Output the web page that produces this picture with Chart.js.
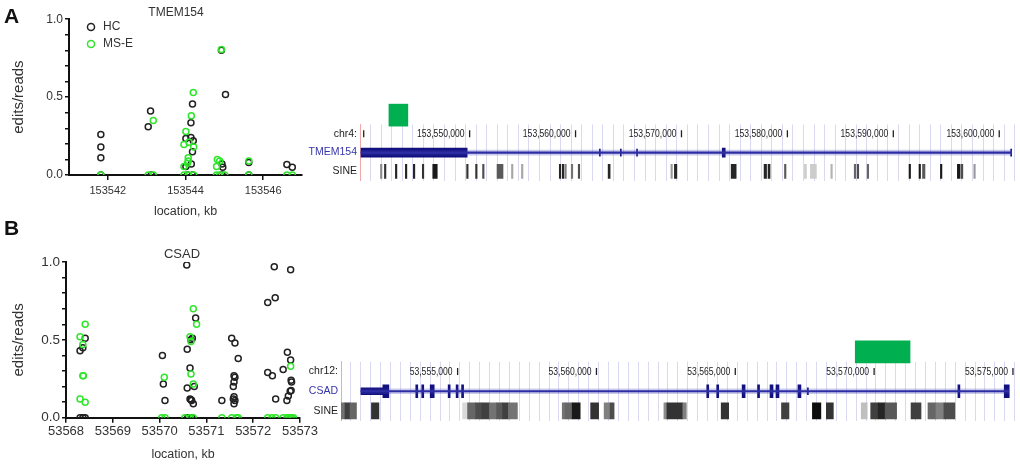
<!DOCTYPE html>
<html><head><meta charset="utf-8">
<script src="https://cdn.jsdelivr.net/npm/chart.js@4.4.1/dist/chart.umd.min.js"></script>
<style>
html,body{margin:0;padding:0;background:#fff;}
#wrap{position:relative;width:1020px;height:464px;overflow:hidden;background:#fff;}
#wrap canvas{position:absolute;}
.panel{position:absolute;font:bold 21px 'Liberation Sans',Arial,sans-serif;line-height:21px;color:#111;}
</style></head><body>
<div id="wrap">
<canvas id="scA" width="352" height="223" style="left:0px;top:0px"></canvas>
<canvas id="scB" width="364" height="228" style="left:0px;top:236px"></canvas>
<canvas id="gbA" width="720" height="95" style="left:300px;top:95px"></canvas>
<canvas id="gbB" width="720" height="100" style="left:300px;top:330px"></canvas>
<div class="panel" style="left:4px;top:5px">A</div>
<div class="panel" style="left:4px;top:217px">B</div>
</div>
<script>
// ---------- scatter data: [location kb, edits/reads] ----------
const hcA = [
  [153541.82,0.26],[153541.82,0.18],[153541.82,0.11],[153541.82,0],
  [153543.10,0.41],[153543.04,0.31],[153543.12,0],
  [153544.18,0.455],[153544.14,0.335],[153544.01,0.235],[153544.14,0.24],[153544.20,0.22],[153544.18,0.15],[153544.15,0.07],[153544.01,0.055],[153544.05,0],[153544.18,0],
  [153544.925,0.80],[153545.03,0.517],[153544.94,0.07],[153544.96,0.05],[153544.94,0],
  [153545.63,0.08],[153545.63,0],
  [153546.61,0.068],[153546.75,0.05]
];
const mseA = [
  [153541.82,0],
  [153543.04,0],[153543.17,0.35],[153543.17,0],
  [153544.20,0.53],[153544.15,0.38],[153544.01,0.28],[153543.96,0.195],[153544.09,0.21],[153544.21,0.18],[153544.07,0.11],[153544.05,0.075],[153543.96,0.055],[153544.07,0.09],[153543.96,0],[153544.07,0],[153544.21,0],
  [153544.925,0.805],[153544.82,0.10],[153544.88,0.09],[153544.80,0.055],[153544.80,0],[153544.88,0],[153545.01,0],
  [153545.63,0.09],[153545.63,0],
  [153546.61,0],[153546.75,0]
];
const hcB = [
  [53568.41,0.51],[53568.36,0.45],[53568.30,0.43],[53568.30,0],[53568.36,0],[53568.41,0],
  [53570.06,0.40],[53570.08,0.217],[53570.115,0.11],
  [53570.58,0.98],[53570.77,0.64],[53570.70,0.51],[53570.67,0.50],[53570.59,0.44],[53570.65,0.32],[53570.74,0.20],[53570.59,0.19],[53570.65,0.12],[53570.685,0.11],[53570.67,0.115],[53570.72,0.09],[53570.60,0],[53570.685,0],
  [53571.33,0.11],
  [53571.54,0.51],[53571.61,0.48],[53571.68,0.38],[53571.59,0.27],[53571.61,0.26],[53571.59,0.23],[53571.575,0.20],[53571.59,0.135],[53571.575,0.12],[53571.61,0.11],[53571.59,0.09],
  [53572.45,0.97],[53572.47,0.77],[53572.31,0.74],[53572.31,0.29],[53572.41,0.27],[53572.48,0.12],
  [53572.80,0.95],[53572.73,0.42],[53572.80,0.37],[53572.64,0.31],[53572.81,0.24],[53572.82,0.23],[53572.81,0.175],[53572.79,0.17],[53572.75,0.14],[53572.72,0.11]
];
const mseB = [
  [53568.41,0.60],[53568.30,0.52],[53568.36,0.47],[53568.37,0.27],[53568.36,0.27],[53568.30,0.12],[53568.41,0.10],
  [53570.10,0.26],[53570.045,0],[53570.115,0],
  [53570.72,0.70],[53570.79,0.60],[53570.65,0.52],[53570.67,0.49],[53570.67,0.28],[53570.72,0.217],[53570.54,0],[53570.65,0],[53570.72,0],
  [53571.33,0],
  [53571.54,0],[53571.64,0],[53571.68,0],
  [53572.31,0],[53572.40,0],[53572.48,0],
  [53572.80,0.33],[53572.64,0],[53572.72,0],[53572.75,0],[53572.79,0],[53572.82,0],[53572.86,0]
];
const seriesNames = ['HC','MS-E'];
const titleA = 'TMEM154', titleB = 'CSAD';
const xTitle = 'location, kb', yTitle = 'edits/reads';
const xTicksA = [153542, 153544, 153546];
const xTicksB = [53568, 53569, 53570, 53571, 53572, 53573];
const yTickLabels = [0, 0.5, 1.0];

// ---------- genome browser data (bp) ----------
const rowsA = ['', 'chr4:', 'TMEM154', 'SINE'];
const rowsB = ['', 'chr12:', 'CSAD', 'SINE'];
const viewA = [153539650, 153601460];
const viewB = [53550800, 53575063];
const regionA = [[153542380, 153544168]];
const regionB = [[53569320, 53571294]];
const rulerMarksA = [153540000,153550000,153560000,153570000,153580000,153590000,153600000];
const rulerLabelsA = [153550000,153560000,153570000,153580000,153590000,153600000];
const rulerMarksB = [53555000,53560000,53565000,53570000,53575000];
const rulerLabelsB = [53555000,53560000,53565000,53570000,53575000];
const geneA = [153539746, 153601174];
const exonsA = [[153539746,153549765],[153573850,153574130]];
const smallExonsA = [[153562250,153562340],[153564230,153564320],[153565760,153565850],[153601080,153601174]];
const geneB = [53551519, 53574847];
const utrB = [[53551519,53552308]];
const exonsB = [[53552308,53552524],[53553493,53553565],[53553708,53553780],[53554013,53554157],[53554659,53554731],[53554946,53555018],[53555143,53555215],
  [53563972,53564044],[53564331,53564403],[53565246,53565354],[53565802,53565874],[53566251,53566359],[53566466,53566574],[53567256,53567364],[53573017,53573089],[53574686,53574866]];
const smallExonsB = [[53567597,53567633]];
// SINE elements: [start, end, score]
const sineA = [
  [153541581,153541722,450],[153541957,153542098,800],[153542992,153543133,850],[153543932,153544074,850],[153544685,153544826,850],
  [153545532,153545673,800],[153546519,153546943,900],[153549718,153549859,800],[153550564,153550706,800],[153551223,153551364,700],
  [153552587,153553151,650],[153553951,153554092,350],[153554892,153555033,350],[153558466,153558607,850],[153558749,153558890,850],
  [153558984,153559125,500],[153559595,153559736,550],[153560254,153560395,700],[153563076,153563264,850],[153569002,153569143,400],
  [153569331,153569567,850],[153574693,153575164,850],[153577798,153578033,850],[153578174,153578362,850],[153579726,153579867,650],
  [153581608,153581796,200],[153582172,153582736,200],[153584100,153584241,300],[153586311,153586452,600],[153586593,153586734,700],
  [153587534,153587675,600],[153591485,153591626,900],[153592426,153592567,900],[153592755,153592990,650],[153594448,153594589,900],
  [153596047,153596282,900],[153596377,153596565,700],[153597599,153597740,400]
];
const sineB = [
  [53550783,53550944,550],[53550944,53551124,750],[53551124,53551357,600],[53551896,53552165,800],
  [53555179,53555359,150],[53555359,53555646,600],[53555646,53555861,700],[53555861,53556148,750],[53556148,53556400,550],
  [53556400,53556615,650],[53556615,53556830,750],[53556830,53557153,550],
  [53558768,53558876,550],[53558876,53559127,600],[53559127,53559414,900],[53559791,53560078,800],[53560276,53560491,500],[53560491,53560635,700],
  [53562429,53562537,450],[53562537,53563111,800],[53563111,53563237,500],[53564493,53564762,800],[53566664,53566933,750],
  [53567777,53568082,950],[53568279,53568531,800],[53569535,53569751,250],[53569877,53570146,750],[53570146,53570397,850],
  [53570397,53570810,650],[53571330,53571689,750],[53571940,53572227,600],[53572227,53572514,500],[53572514,53572909,700]
];

// ---------- styling ----------
const FONT = "'Liberation Sans', Arial, sans-serif";
const BLACK = '#222222', GREEN = '#2fe62a', TXT = '#333333';
const NAVY = '#10107e', NAVY2 = '#26269c', BLUE_LABEL = '#3535a8', GBOX = '#00b050';
const GRID = 'rgba(185,185,232,0.55)', PINK = 'rgba(238,170,170,1)';

const toPts = arr => arr.map(p => ({x: p[0], y: p[1]}));
const fmtY = v => (yTickLabels.some(t => Math.abs(v - t) < 1e-6) ? v.toFixed(1) : '');

const legendShift = {
  id: 'legendShift',
  afterLayout(chart, args, opts) {
    const l = chart.legend; if (!l) return;
    const dx = opts.dx || 0, dy = opts.dy || 0;
    l.left += dx; l.right += dx; l.top += dy; l.bottom += dy;
  }
};

function scatter(id, cfg) {
  return new Chart(document.getElementById(id), {
    type: 'scatter',
    data: { datasets: [
      {label: seriesNames[0], data: toPts(cfg.hc), borderColor: BLACK, pointBorderColor: BLACK, backgroundColor: 'rgba(0,0,0,0)', pointBackgroundColor: 'rgba(0,0,0,0)', order: 1},
      {label: seriesNames[1], data: toPts(cfg.mse), borderColor: GREEN, pointBorderColor: GREEN, backgroundColor: 'rgba(0,0,0,0)', pointBackgroundColor: 'rgba(0,0,0,0)', order: 0}
    ]},
    options: {
      responsive: false, animation: false, events: [],
      layout: {padding: 0},
      elements: {point: {radius: 3, borderWidth: 1.5, pointStyle: 'circle'}},
      plugins: {
        title: {display: true, text: cfg.title, color: TXT, font: {size: cfg.titleFont, family: FONT, weight: 'normal', lineHeight: 1.1},
          padding: {top: cfg.titlePad, bottom: 0}},
        legend: {display: cfg.legend, position: 'chartArea', align: 'start',
          labels: {usePointStyle: true, boxHeight: 5, padding: 5, color: TXT, font: {size: 12, family: FONT},
            sort: (a, b) => a.datasetIndex - b.datasetIndex}},
        tooltip: {enabled: false},
        legendShift: {dx: 11, dy: 16}
      },
      scales: {
        x: {type: 'linear', min: cfg.xmin, max: cfg.xmax,
          afterBuildTicks: s => { s.ticks = cfg.xticks.map(v => ({value: v})); },
          ticks: {autoSkip: false, maxRotation: 0, callback: v => String(v),
            font: {size: cfg.xFont, family: FONT}, color: TXT, padding: cfg.xPad},
          grid: {display: true, drawOnChartArea: false, drawTicks: true, tickLength: 5, color: '#111', lineWidth: 1.5},
          border: {display: true, color: '#111', width: 2},
          title: {display: true, text: xTitle, color: TXT, font: {size: 12.5, family: FONT}, padding: {top: 0, bottom: cfg.xTitlePad}},
          afterFit: s => { s.height = cfg.xH; }},
        y: {type: 'linear', min: 0, max: 1,
          ticks: {stepSize: 0.1, autoSkip: false, callback: fmtY, color: TXT, font: {size: cfg.yFont, family: FONT}, padding: 2},
          grid: {display: true, drawOnChartArea: false, drawTicks: true, tickLength: 4, color: '#111', lineWidth: 1.5},
          border: {display: true, color: '#111', width: 2},
          title: {display: true, text: yTitle, color: TXT, font: {size: 15, family: FONT}, padding: {top: 10, bottom: 0}},
          afterFit: s => { s.width = cfg.yW; }},
        yPad: {type: 'linear', position: 'right', ticks: {display: false}, grid: {display: false}, border: {display: false},
          afterFit: s => { s.width = cfg.rightW; }}
      }
    },
    plugins: [legendShift]
  });
}

scatter('scA', {hc: hcA, mse: mseA, legend: true, rightW: 50, xmin: 153541, xmax: 153547, xticks: xTicksA,
  xFont: 11, xPad: 4, xTitlePad: 4, xH: 48, title: titleA, titleFont: 12, titlePad: 6, yFont: 12, yW: 69});
scatter('scB', {hc: hcB, mse: mseB, legend: false, rightW: 64, xmin: 53568, xmax: 53573, xticks: xTicksB,
  xFont: 13, xPad: 1, xTitlePad: 1.8, xH: 46.3, title: titleB, titleFont: 13, titlePad: 11.7, yFont: 13.5, yW: 66});

// ---------- genome browser tracks ----------
const rulerText = {
  id: 'rulerText',
  afterDatasetsDraw(chart, args, opts) {
    const {ctx} = chart, x = chart.scales.x, y = chart.scales.y;
    const yy = y.getPixelForValue(1);
    (opts.values || []).forEach(v => {
      ctx.save();
      ctx.font = opts.font; ctx.fillStyle = opts.color; ctx.textAlign = 'right'; ctx.textBaseline = 'middle';
      ctx.translate(x.getPixelForValue(v) - 5, yy);
      ctx.scale(opts.squeeze, 1);
      ctx.fillText(Number(v).toLocaleString('en-US'), 0, 0);
      ctx.restore();
    });
  }
};
const sineColor = s => { const g = Math.round(255 * (1 - (s || 0) / 1000)); return `rgb(${g},${g},${g})`; };
const bars = (list, row) => list.map(r => ({x: [r[0], r[1]], y: row}));

function browser(id, cfg) {
  return new Chart(document.getElementById(id), {
    type: 'bar',
    data: { datasets: [
      {type: 'bar', indexAxis: 'y', label: 'region', data: bars(cfg.region, 0), backgroundColor: GBOX, barThickness: 22, grouped: false, clip: false},
      {type: 'scatter', label: 'ruler', data: cfg.marks.map(v => ({x: v, y: 1})), pointStyle: 'line', pointRotation: 90, pointRadius: 3.5,
        pointBorderColor: '#222', pointBorderWidth: 1.3, borderColor: '#222'},
      {type: 'bar', indexAxis: 'y', label: 'intron texture', data: bars([cfg.gene], 2), backgroundColor: 'rgba(70,70,185,0.28)', barThickness: 5, grouped: false},
      {type: 'bar', indexAxis: 'y', label: 'intron', data: bars([cfg.gene], 2), backgroundColor: NAVY2, barThickness: 1.5, grouped: false},
      {type: 'bar', indexAxis: 'y', label: 'utr', data: bars(cfg.utr, 2), backgroundColor: NAVY, barThickness: cfg.utrH, grouped: false},
      {type: 'bar', indexAxis: 'y', label: 'exon', data: bars(cfg.exons, 2), backgroundColor: NAVY, barThickness: cfg.exonH, grouped: false},
      {type: 'bar', indexAxis: 'y', label: 'small exon', data: bars(cfg.small, 2), backgroundColor: NAVY, barThickness: 7, grouped: false},
      {type: 'bar', indexAxis: 'y', label: 'SINE', data: cfg.sine.map(s => ({x: [s[0], s[1]], y: 3, score: s[2]})),
        backgroundColor: c => sineColor(c.raw && c.raw.score), barThickness: cfg.sineH, grouped: false}
    ]},
    options: {
      indexAxis: 'y',
      responsive: false, animation: false, events: [],
      layout: {padding: {left: 0, right: 3, top: cfg.padTop, bottom: cfg.padBottom}},
      plugins: {legend: {display: false}, tooltip: {enabled: false},
        rulerText: {values: cfg.labels, font: "11px " + FONT, color: '#222', squeeze: 0.78}},
      scales: {
        x: {type: 'linear', min: cfg.view[0], max: cfg.view[1], offset: false, beginAtZero: false,
          ticks: {display: false, stepSize: cfg.gridStep},
          grid: {display: true, drawTicks: false, offset: false, color: GRID, lineWidth: 1},
          border: {display: false},
          afterFit: s => { s.height = 0; }},
        y: {type: 'linear', reverse: true, min: 0.5, max: 3.5, offset: false, beginAtZero: false,
          afterBuildTicks: s => { s.ticks = [1, 2, 3].map(v => ({value: v})); },
          ticks: {autoSkip: false, callback: v => cfg.rows[v] || '', padding: 3,
            font: {size: 10.5, family: FONT},
            color: c => (c.tick && c.tick.value === 2 ? BLUE_LABEL : '#222')},
          grid: {display: false, drawTicks: false, offset: false},
          border: {display: true, color: PINK, width: 1},
          afterFit: s => { s.width = cfg.yW; }}
      }
    },
    plugins: [rulerText]
  });
}

browser('gbA', {rows: rowsA, view: viewA, region: regionA, marks: rulerMarksA, labels: rulerLabelsA, gene: geneA,
  utr: [], exons: exonsA, small: smallExonsA, sine: sineA, utrH: 7, exonH: 9, sineH: 14,
  padTop: 29.5, padBottom: 8.5, yW: 60, gridStep: 1000});
browser('gbB', {rows: rowsB, view: viewB, region: regionB, marks: rulerMarksB, labels: rulerLabelsB, gene: geneB,
  utr: utrB, exons: exonsB, small: smallExonsB, sine: sineB, utrH: 7, exonH: 13, sineH: 16,
  padTop: 31.75, padBottom: 6.75, yW: 41, gridStep: 5000 / 14});
</script>
</body></html>
